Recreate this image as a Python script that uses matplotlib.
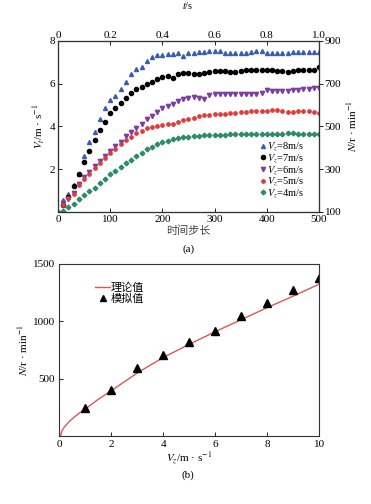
import numpy as np
import matplotlib
matplotlib.use("Agg")
import matplotlib.pyplot as plt

plt.rcParams['font.family'] = ['Liberation Serif', 'Noto Sans CJK SC']
plt.rcParams['mathtext.fontset'] = 'stix'
plt.rcParams['font.size'] = 8
plt.rcParams['axes.linewidth'] = 0.8

# (a) velocity vs. time step
steps = list(range(10, 510, 10))
v8 = [0.57, 0.85, 1.24, 1.78, 2.6, 3.28, 3.76, 4.33, 4.87, 5.22,
      5.44, 5.77, 6.09, 6.45, 6.69, 6.78, 7.06, 7.26, 7.33, 7.36,
      7.38, 7.4, 7.42, 7.3, 7.42, 7.46, 7.5, 7.5, 7.52, 7.52,
      7.52, 7.45, 7.42, 7.42, 7.44, 7.46, 7.5, 7.52, 7.55, 7.45,
      7.45, 7.45, 7.46, 7.46, 7.47, 7.48, 7.48, 7.48, 7.48, 7.48]
v7 = [0.31, 0.72, 1.22, 1.78, 2.35, 2.87, 3.36, 3.85, 4.2, 4.61,
      4.86, 5.11, 5.35, 5.56, 5.73, 5.87, 6.0, 6.1, 6.2, 6.3,
      6.36, 6.28, 6.45, 6.5, 6.5, 6.46, 6.45, 6.52, 6.56, 6.58,
      6.6, 6.58, 6.56, 6.56, 6.6, 6.62, 6.65, 6.65, 6.65, 6.65,
      6.65, 6.6, 6.58, 6.56, 6.6, 6.63, 6.65, 6.65, 6.66, 6.78]
v6 = [0.4, 0.62, 0.88, 1.31, 1.63, 1.86, 2.17, 2.4, 2.6, 2.87,
      3.1, 3.29, 3.55, 3.73, 3.95, 4.1, 4.33, 4.5, 4.67, 4.85,
      4.96, 5.06, 5.18, 5.28, 5.35, 5.36, 5.34, 5.28, 5.46, 5.5,
      5.5, 5.5, 5.5, 5.52, 5.52, 5.52, 5.53, 5.53, 5.55, 5.7,
      5.68, 5.68, 5.68, 5.68, 5.7, 5.72, 5.74, 5.76, 5.78, 5.8]
v5 = [0.35, 0.65, 0.85, 1.24, 1.55, 1.8, 2.08, 2.3, 2.53, 2.78,
      2.96, 3.18, 3.35, 3.52, 3.68, 3.79, 3.91, 3.96, 4.0, 4.05,
      4.1, 4.12, 4.2, 4.28, 4.35, 4.38, 4.48, 4.52, 4.56, 4.6,
      4.6, 4.6, 4.62, 4.65, 4.68, 4.7, 4.72, 4.73, 4.72, 4.72,
      4.75, 4.78, 4.72, 4.7, 4.66, 4.72, 4.73, 4.72, 4.7, 4.65]
steps4 = [0] + steps
v4 = [0.0, 0.05, 0.22, 0.38, 0.6, 0.79, 0.97, 1.14, 1.36, 1.53, 1.77,
      1.94, 2.12, 2.28, 2.45, 2.62, 2.78, 2.93, 3.06, 3.18, 3.26,
      3.34, 3.4, 3.46, 3.5, 3.53, 3.55, 3.56, 3.58, 3.6, 3.6,
      3.62, 3.62, 3.63, 3.64, 3.64, 3.65, 3.65, 3.65, 3.66, 3.65,
      3.64, 3.66, 3.67, 3.68, 3.68, 3.67, 3.66, 3.66, 3.65, 3.66]

# (b) rotation speed vs. wind speed
vz_theory = [0.05, 0.1, 0.2, 0.4, 0.6, 0.8, 1.0, 1.5, 2.0, 3.0, 4.0, 5.0, 6.0, 7.0, 8.0, 9.0, 10.0]
n_theory = [0, 45, 80, 130, 170, 205, 235, 320, 395, 550, 685, 800, 910, 1015, 1120, 1220, 1325]
vz_sim = [1, 2, 3, 4, 5, 6, 7, 8, 9, 10]
n_sim = [247, 401, 590, 703, 820, 918, 1049, 1163, 1273, 1378]

fig = plt.figure(figsize=(3.71, 5.04), dpi=100)

# ---- panel (a)
ax = fig.add_axes([0.1563, 0.5794, 0.7035, 0.3393])
ax.plot(steps, v8, '^', color='#3a5cb0', ms=2.9, ls='none', label='$V_z$=8m/s')
ax.plot(steps, v7, 'o', color='black', ms=3.0, ls='none', label='$V_z$=7m/s')
ax.plot(steps, v6, 'v', color='#7a3fa0', ms=3.1, ls='none', label='$V_z$=6m/s')
ax.plot(steps, v5, 'o', color='#e03a3a', ms=2.4, ls='none', label='$V_z$=5m/s')
ax.plot(steps4, v4, 'D', color='#2e8b68', ms=2.4, ls='none', label='$V_z$=4m/s')
ax.set_xlim(0, 500)
ax.set_ylim(0, 8)
ax.set_yticks([2, 4, 6, 8])
ax.set_xticks([0, 100, 200, 300, 400, 500])
ax.tick_params(direction='in', length=3, width=0.6, pad=2)
ax.set_xlabel('时间步长', fontsize=8, labelpad=1, color='#444444')
ax.set_ylabel('$V_t$/m · s$^{-1}$', fontsize=8, labelpad=2)
ax.legend(loc='lower right', frameon=False, fontsize=7.5, handletextpad=0.05,
          labelspacing=-0.12, borderaxespad=0, borderpad=0, handlelength=0.8,
          bbox_to_anchor=(0.945, 0.07))

axt = ax.twiny()
axt.set_xlim(0, 1.0)
axt.set_xticks([0, 0.2, 0.4, 0.6, 0.8, 1.0])
axt.set_xticklabels(['0', '0.2', '0.4', '0.6', '0.8', '1.0'])
axt.tick_params(direction='in', length=3, width=0.6, pad=1)
fig.text(0.507, 1.0, '$t$/s', ha='center', va='top', fontsize=7.5)

axr = ax.twinx()
axr.set_ylim(100, 900)
axr.set_yticks([100, 300, 500, 700, 900])
axr.tick_params(direction='out', length=3, width=0.6, pad=1)
axr.set_ylabel('$N$/r · min$^{-1}$', fontsize=8, labelpad=3)

for a in (ax, axt, axr):
    for s in a.spines.values():
        s.set_color('#333333')

fig.text(0.507, 0.505, '(a)', ha='center', va='center', fontsize=8)

# ---- panel (b)
bx = fig.add_axes([0.1598, 0.1349, 0.7009, 0.3413])
bx.plot(vz_theory, n_theory, color='#e05555', lw=1.0, label='理论值')
bx.plot(vz_sim, n_sim, '^', color='black', ms=5.5, ls='none', label='模拟值')
bx.set_xlim(0, 10)
bx.set_ylim(0, 1500)
bx.set_xticks([0, 2, 4, 6, 8, 10])
bx.set_yticks([500, 1000, 1500])
bx.tick_params(direction='in', length=3, width=0.6, pad=3)
bx.set_xlabel('$V_z$/m · s$^{-1}$', fontsize=8, labelpad=1)
bx.set_ylabel('$N$/r · min$^{-1}$', fontsize=8, labelpad=2)
bx.legend(loc='upper left', frameon=False, fontsize=8, handlelength=1.3,
          handletextpad=0.1, labelspacing=0.1, markerscale=0.8,
          bbox_to_anchor=(0.1, 0.95))
for s in bx.spines.values():
    s.set_color('#333333')

fig.text(0.507, 0.057, '(b)', ha='center', va='center', fontsize=8)

fig.savefig('out.png', dpi=100, facecolor='white')
